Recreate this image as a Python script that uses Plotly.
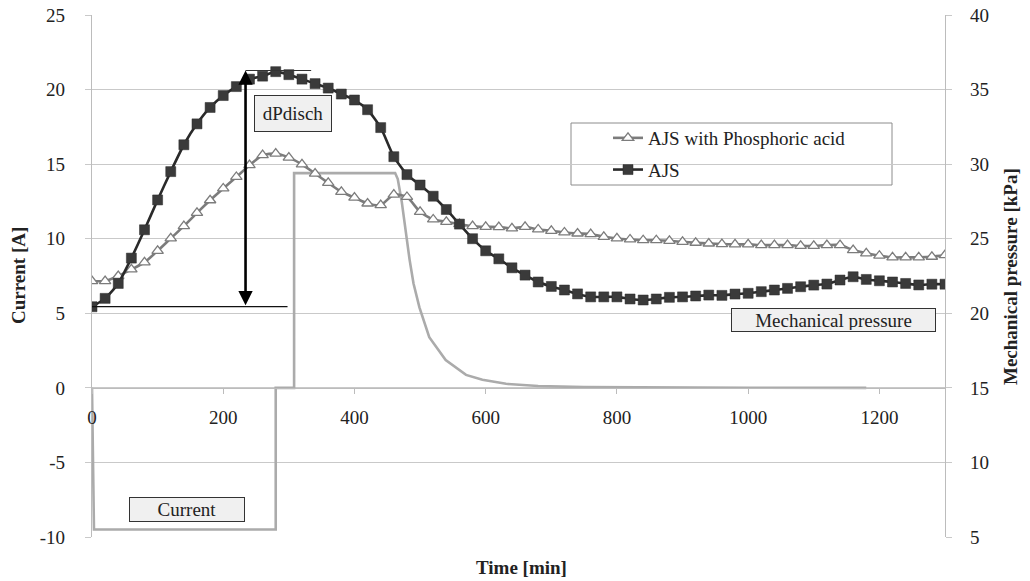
import plotly.graph_objects as go

# ---------------- data ----------------
time_min = [0, 20, 40, 60, 80, 100, 120, 140, 160, 180,
            200, 220, 240, 260, 280, 300, 320, 340, 360, 380,
            400, 420, 440, 460, 480, 500, 520, 540, 560, 580,
            600, 620, 640, 660, 680, 700, 720, 740, 760, 780,
            800, 820, 840, 860, 880, 900, 920, 940, 960, 980,
            1000, 1020, 1040, 1060, 1080, 1100, 1120, 1140, 1160, 1180,
            1200, 1220, 1240, 1260, 1280, 1300]

# Mechanical pressure [kPa] – AJS with phosphoric acid
ajs_phos_kpa = [22.16, 22.16, 22.5, 22.94, 23.41, 24.19, 25.02, 25.84, 26.73, 27.58,
                28.37, 29.14, 29.93, 30.6, 30.71, 30.44, 29.99, 29.37, 28.74, 28.14,
                27.76, 27.36, 27.25, 27.96, 27.8, 26.8, 26.29, 26.13, 25.98, 25.84,
                25.8, 25.78, 25.69, 25.8, 25.62, 25.53, 25.42, 25.35, 25.31, 25.13,
                25.02, 24.95, 24.9, 24.9, 24.86, 24.79, 24.73, 24.68, 24.64, 24.62,
                24.62, 24.57, 24.57, 24.57, 24.52, 24.52, 24.57, 24.57, 24.24, 24.02,
                23.86, 23.75, 23.75, 23.75, 23.79, 23.9]

# Mechanical pressure [kPa] – AJS
ajs_kpa = [20.44, 21.0, 22.0, 23.7, 25.6, 27.6, 29.5, 31.3, 32.7, 33.8,
           34.6, 35.2, 35.7, 35.9, 36.2, 36.0, 35.7, 35.4, 35.1, 34.7,
           34.3, 33.65, 32.45, 30.5, 29.3, 28.6, 27.85, 26.96, 25.98, 25.0,
           24.19, 23.65, 23.05, 22.56, 22.1, 21.8, 21.56, 21.3, 21.1, 21.1,
           21.1, 20.96, 20.89, 20.96, 21.07, 21.1, 21.16, 21.22, 21.2, 21.29,
           21.34, 21.45, 21.56, 21.67, 21.78, 21.89, 21.96, 22.23, 22.45, 22.27,
           22.18, 22.1, 22.0, 21.9, 21.95, 21.95]

# Current [A]
current_time = [0, 3, 280, 280, 308, 308, 462, 466, 472, 478, 484, 490, 499,
                514, 539, 570, 595, 631, 680, 750, 850, 1000, 1180]
current_a = [0, -9.5, -9.5, 0, 0, 14.4, 14.4, 14.0, 12.5, 10.5, 8.6, 7.0, 5.4,
             3.4, 1.87, 0.87, 0.54, 0.27, 0.12, 0.05, 0.02, 0.01, 0.0]

x_ticks = [0, 200, 400, 600, 800, 1000, 1200]
left_ticks = [-10, -5, 0, 5, 10, 15, 20, 25]
left_labels = ["-10", "-5", "0", "5", "10", "15", "20", "25"]
right_ticks = [5, 10, 15, 20, 25, 30, 35, 40]
left_range = [-10, 25]
right_range = [5, 40]

# dPdisch marker levels (Current-axis units) and times
dp_time = 234
dp_low = 5.44
dp_high = 21.28

FONT = "Liberation Serif, Times New Roman, serif"
GRID = "#c9c9c9"
AXIS = "#bcbcbc"

fig = go.Figure()

fig.add_trace(go.Scatter(
    x=current_time, y=current_a, mode="lines", name="Current",
    line=dict(color="#ababab", width=2.6), showlegend=False, yaxis="y"))

fig.add_trace(go.Scatter(
    x=time_min, y=ajs_phos_kpa, mode="lines+markers", name="AJS with Phosphoric acid",
    line=dict(color="#7c7c7c", width=2.6, shape="spline", smoothing=0.6),
    marker=dict(symbol="triangle-up", size=10, color="white",
                line=dict(color="#7c7c7c", width=1.3)),
    yaxis="y2", legendgroup="g1"))

fig.add_trace(go.Scatter(
    x=time_min, y=ajs_kpa, mode="lines+markers", name="AJS",
    line=dict(color="#2a2a2a", width=2.6, shape="spline", smoothing=0.6),
    marker=dict(symbol="square", size=10, color="#3a3a3a",
                line=dict(color="#2a2a2a", width=0.5)),
    yaxis="y2", legendgroup="g2"))

tickfont = dict(family=FONT, size=19, color="#222222")

fig.update_layout(
    width=1030, height=581,
    margin=dict(l=92, r=85, t=15, b=44, autoexpand=False),
    paper_bgcolor="white", plot_bgcolor="white",
    font=dict(family=FONT, size=19, color="#222222"),
    xaxis=dict(range=[0, 1300], tickvals=x_ticks, showgrid=False, zeroline=False,
               showline=True, linecolor=AXIS, linewidth=1.2,
               anchor="free", position=10 / 35, automargin=False,
               ticks="outside", ticklen=5, tickcolor=AXIS,
               tickfont=tickfont, ticklabelstandoff=7),
    yaxis=dict(range=left_range, tickvals=left_ticks, ticktext=left_labels,
               showgrid=True, gridcolor=GRID, gridwidth=1.2, automargin=False,
               zeroline=False, showline=True, linecolor=AXIS, linewidth=1.2,
               ticks="outside", ticklen=6, tickcolor=GRID,
               tickfont=tickfont, ticklabelstandoff=16),
    yaxis2=dict(range=right_range, tickvals=right_ticks, overlaying="y", side="right",
                showgrid=False, zeroline=False, showline=True, linecolor=AXIS,
                linewidth=1.2, ticks="outside", ticklen=6, tickcolor=GRID, automargin=False,
                tickfont=tickfont, ticklabelstandoff=14),
    showlegend=True,
    legend=dict(x=(608 - 92) / 853, y=(537 - 119) / 522, xanchor="left", yanchor="top",
                bgcolor="rgba(0,0,0,0)", borderwidth=0,
                font=dict(family=FONT, size=19, color="#222222"),
                tracegroupgap=4, traceorder="grouped"),
)

# legend frame
fig.add_shape(type="rect", xref="paper", yref="paper",
              x0=(571 - 92) / 853, x1=(892 - 92) / 853,
              y0=(537 - 185) / 522, y1=(537 - 123) / 522,
              line=dict(color="#8c8c8c", width=1), fillcolor="white", layer="between")

# dPdisch guide lines
fig.add_shape(type="line", xref="x", yref="y", x0=dp_time, x1=334, y0=dp_high, y1=dp_high,
              line=dict(color="#333333", width=1.2))
fig.add_shape(type="line", xref="x", yref="y", x0=0, x1=298, y0=dp_low, y1=dp_low,
              line=dict(color="#111111", width=1.3))

# double-headed arrow
fig.add_annotation(x=dp_time, y=dp_high, ax=dp_time, ay=dp_low, xref="x", yref="y",
                   axref="x", ayref="y", text="", showarrow=True,
                   arrowhead=2, startarrowhead=2, arrowside="end+start",
                   arrowsize=1.1, startarrowsize=1.1, arrowwidth=2.6, arrowcolor="black",
                   standoff=0, startstandoff=0)

box = dict(bgcolor="#f0f0f0", bordercolor="#333333", borderwidth=1, borderpad=1,
           font=dict(family=FONT, size=19, color="#222222"), showarrow=False)
fig.add_annotation(x=306.8, y=18.37, xref="x", yref="y", text="dPdisch",
                   width=74, height=33, **box)
fig.add_annotation(x=145.4, y=-8.13, xref="x", yref="y", text="Current",
                   width=112, height=21, **box)
fig.add_annotation(x=1129.9, y=4.55, xref="x", yref="y", text="Mechanical pressure",
                   width=201, height=20, **box)

# axis titles
title_font = dict(family=FONT, size=19, color="#222222")
fig.add_annotation(text="<b>Current [A]</b>", xref="paper", yref="paper",
                   x=(18 - 92) / 853, y=0.5, xanchor="center", yanchor="middle",
                   textangle=-90, showarrow=False, font=title_font)
fig.add_annotation(text="<b>Mechanical pressure [kPa]</b>", xref="paper", yref="paper",
                   x=(1010 - 92) / 853, y=0.5, xanchor="center", yanchor="middle",
                   textangle=-90, showarrow=False, font=title_font)
fig.add_annotation(text="<b>Time [min]</b>", xref="paper", yref="paper",
                   x=(521 - 92) / 853, y=(537 - 567) / 522, xanchor="center",
                   yanchor="middle", showarrow=False, font=title_font)

fig.write_html("out.html", config={"displayModeBar": False},
               post_script="document.body.style.margin='0';document.body.style.overflow='hidden';")
